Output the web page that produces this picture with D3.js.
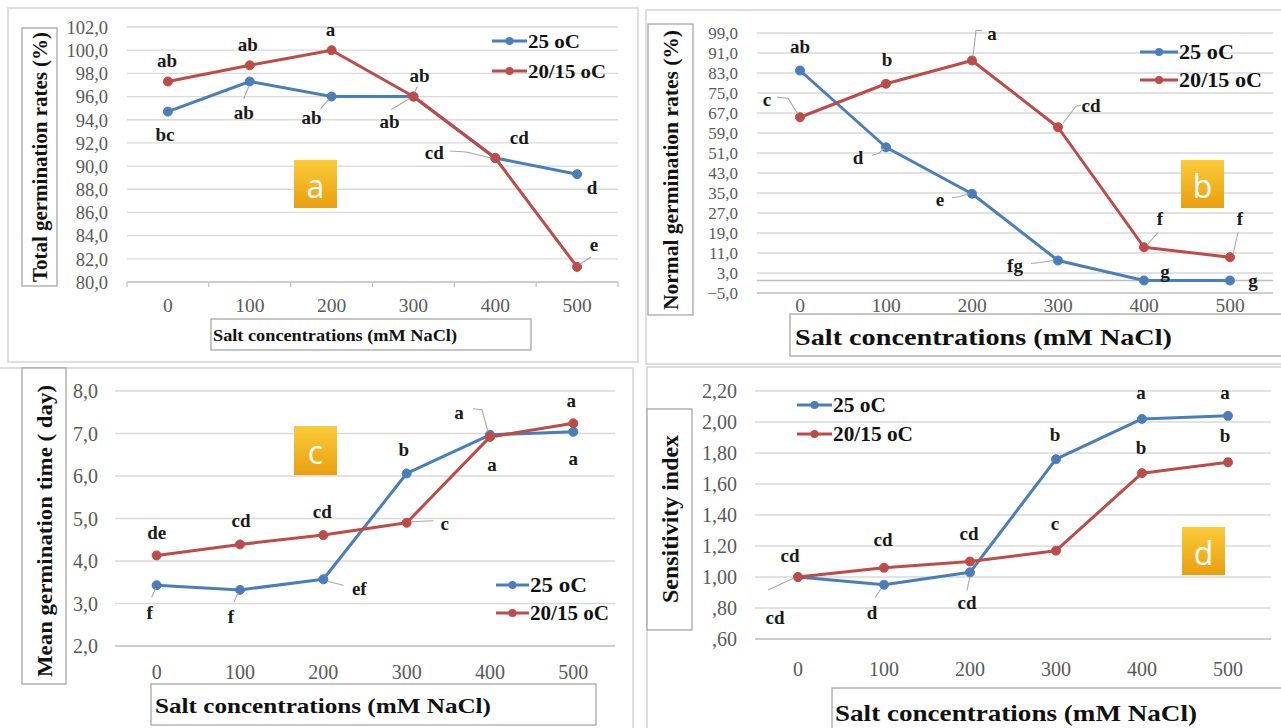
<!DOCTYPE html>
<html><head><meta charset="utf-8">
<script src="https://cdn.jsdelivr.net/npm/d3@7"></script>
<style>html,body{margin:0;padding:0;background:#fff;} svg{display:block}</style>
</head><body>
<svg id="chart" width="1281" height="728"></svg>
<script>
// ---------------- DATA ----------------
const categories = ["0", "100", "200", "300", "400", "500"];
const seriesNames = ["25 oC", "20/15 oC"];

// (a) Total germination rates (%)
const totalTicks = [80, 82, 84, 86, 88, 90, 92, 94, 96, 98, 100, 102];
const total25 = [94.7, 97.3, 96.0, 96.0, 90.7, 89.3];
const total2015 = [97.3, 98.7, 100.0, 96.0, 90.7, 81.3];
const totalLetters25 = ["bc", "ab", "ab", "ab", "cd", "d"];
const totalLetters2015 = ["ab", "ab", "a", "ab", "cd", "e"];

// (b) Normal germination rates (%)
const normalTicks = [-5, 3, 11, 19, 27, 35, 43, 51, 59, 67, 75, 83, 91, 99];
const normal25 = [84.0, 53.3, 34.7, 8.0, 0.0, 0.0];
const normal2015 = [65.3, 78.7, 88.0, 61.3, 13.3, 9.3];
const normalLetters25 = ["ab", "d", "e", "fg", "g", "g"];
const normalLetters2015 = ["c", "b", "a", "cd", "f", "f"];

// (c) Mean germination time (day)
const mgtTicks = [2, 3, 4, 5, 6, 7, 8];
const mgt25 = [3.43, 3.32, 3.57, 6.06, 6.97, 7.04];
const mgt2015 = [4.13, 4.39, 4.61, 4.90, 6.92, 7.24];
const mgtLetters25 = ["f", "f", "ef", "b", "a", "a"];
const mgtLetters2015 = ["de", "cd", "cd", "c", "a", "a"];

// (d) Sensitivity index
const siTicks = [0.6, 0.8, 1.0, 1.2, 1.4, 1.6, 1.8, 2.0, 2.2];
const si25 = [1.00, 0.95, 1.03, 1.76, 2.02, 2.04];
const si2015 = [1.00, 1.06, 1.10, 1.17, 1.67, 1.74];
const siLetters25 = ["cd", "d", "cd", "b", "a", "a"];
const siLetters2015 = ["cd", "cd", "cd", "c", "b", "b"];

const xTitle = "Salt concentrations (mM NaCl)";

// ---------------- STYLE / LAYOUT ----------------
const SERIF = "'Liberation Serif','Times New Roman','DejaVu Serif',serif";
const SANS = "'Open Sans','Noto Sans',sans-serif";
const BLUE = "#4A7EBB", RED = "#BE4B48";
const fmt1 = v => d3.format(".1f")(v).replace(".", ",");
const fmt2 = v => d3.format(".2f")(v).replace(".", ",").replace(/^0,/, ",");

const panels = [
  {
    frame: [8, 8, 638, 362], xRange: [127, 618], yRange: [282, 27], domain: [80, 102],
    ticks: totalTicks, fmt: fmt1, yLabelRight: 108, yTickSize: 18.5, xTickY: 305, xTickSize: 19.5,
    s: [total25, total2015], letters: [totalLetters25, totalLetters2015],
    off: [
      [[-3, 23], [-6, 31, [[-6, 17], [-1, 5]]], [-20, 21, [[-11, 12], [-3, 3]]], [-24, 25, [[-22, 13], [-4, 2]]], [-61, -5, [[-45, -7], [-29, -6], [-4, 0]]], [15, 13]],
      [[-1, -21], [-2, -21], [-1, -21], [6, -21, [[4, -10], [1, -4]]], [24, -20], [17, -22, [[3, -3], [14, -10]]]]
    ],
    yTitle: { text: "Total germination rates (%)", box: [22, 28, 57, 286], cx: 40, cy: 157, size: 20, len: 250 },
    xTitleBox: { box: [211, 319, 531, 350], x: 213, y: 335, size: 16, len: 244 },
    legend: { x: 492, y: [41, 71], len: 35, size: 19, tl: [52, 78] },
    badge: { box: [294, 160, 337, 208], text: "a" },
    bottomTicks: true
  },
  {
    frame: [646, 10, 1292, 364], xRange: [757, 1273], yRange: [293, 33], domain: [-5, 99],
    ticks: normalTicks, fmt: fmt1, yLabelRight: 738, yTickSize: 17, xTickY: 305, xTickSize: 19.5,
    s: [normal25, normal2015], letters: [normalLetters25, normalLetters2015],
    off: [
      [[0, -24], [-28, 10, [[-14, 8], [-7, 6], [-2, 1]]], [-32, 6, [[-20, 4], [-13, 3], [-3, 0]]], [-43, 4.5, [[-27, 3], [-18, 2], [-4, 0]]], [21, -9], [23, 0]],
      [[-33, -18, [[-23, -20], [-12, -19], [-2, -3]]], [1, -24], [20, -27, [[10, -30], [4, -30], [1, -4]]], [33, -22, [[23, -22], [18, -21], [5, -4]]], [16, -29, [[14, -15], [3, -2]]], [10, -39, [[8, -25], [3, -3]]]]
    ],
    yTitle: { text: "Normal germination rates (%)", box: [648, 24, 693, 315], cx: 671, cy: 170, size: 21, len: 280 },
    xTitleBox: { box: [790, 314, 1295, 356], x: 795, y: 337, size: 24, len: 377 },
    legend: { x: 1140, y: [52, 80], len: 38, size: 20, tl: [55, 83] },
    badge: { box: [1181, 160, 1224, 208], text: "b" },
    zeroLine: true
  },
  {
    frame: [-2, 368, 633, 740], xRange: [115, 615], yRange: [646, 391], domain: [2, 8],
    ticks: mgtTicks, fmt: fmt1, yLabelRight: 98, yTickSize: 20, xTickY: 672, xTickSize: 20,
    s: [mgt25, mgt2015], letters: [mgtLetters25, mgtLetters2015],
    off: [
      [[-7, 27, [[-5, 12], [-1, 3]]], [-9, 27, [[-6, 12], [-2, 3]]], [36, 9, [[4, 2], [20, 6]]], [-3, -24], [-31, -22, [[-17, -26], [-8, -25], [-2, -3]]], [0, 27]],
      [[0, -23], [1, -24], [-1, -24], [38, 1, [[4, -1], [27, -2]]], [2, 28], [-2, -23]]
    ],
    yTitle: { text: "Mean germination time ( day)", box: [22, 368, 66, 684], cx: 44, cy: 531, size: 22, len: 292 },
    xTitleBox: { box: [151, 684, 596, 725], x: 155, y: 705, size: 22, len: 336 },
    legend: { x: 496, y: [585, 613], len: 33, size: 20, tl: [57, 79] },
    badge: { box: [294, 426, 337, 475], text: "c" }
  },
  {
    frame: [647, 367, 1292, 740], xRange: [755, 1271], yRange: [639, 391], domain: [0.6, 2.2],
    ticks: siTicks, fmt: fmt2, yLabelRight: 737, yTickSize: 20, xTickY: 669, xTickSize: 20,
    s: [si25, si2015], letters: [siLetters25, siLetters2015],
    off: [
      [[-23, 40, [[-30, 13], [-4, 1]]], [-12, 28, [[-9, 13], [-3, 4]]], [-3, 30, [[-3, 18], [0, 4]]], [-1, -25], [-1, -26], [-3, -23]],
      [[-8, -22], [-1, -28], [-1, -28.5], [-1, -27], [-1, -26], [-3, -27]]
    ],
    yTitle: { text: "Sensitivity index", box: [647, 409, 692, 630], cx: 670, cy: 519, size: 23, len: 168 },
    xTitleBox: { box: [832, 688, 1295, 745], x: 835, y: 713, size: 23, len: 362 },
    legend: { x: 797, y: [405, 434], len: 35, size: 20, tl: [53, 80] },
    badge: { box: [1182, 527, 1225, 575], text: "d" }
  }
];

// ---------------- DRAW ----------------
const svg = d3.select("#chart");
const defs = svg.append("defs");
const grad = defs.append("linearGradient").attr("id", "gold")
  .attr("x1", 0).attr("y1", 0).attr("x2", 0).attr("y2", 1);
grad.append("stop").attr("offset", "0%").attr("stop-color", "#FBCB3A");
grad.append("stop").attr("offset", "100%").attr("stop-color", "#E99F0E");

const colors = [BLUE, RED];

function drawPanel(p) {
  const g = svg.append("g");
  const [fx0, fy0, fx1, fy1] = p.frame;
  g.append("rect").attr("x", fx0).attr("y", fy0).attr("width", fx1 - fx0).attr("height", fy1 - fy0)
    .attr("fill", "#fff").attr("stroke", "#d4d4d4").attr("stroke-width", 1.5);

  const x = d3.scaleBand().domain(categories).range(p.xRange);
  const y = d3.scaleLinear().domain(p.domain).range(p.yRange);
  const cx = c => x(c) + x.bandwidth() / 2;

  // gridlines
  g.append("g").selectAll("line").data(p.ticks).join("line")
    .attr("x1", p.xRange[0]).attr("x2", p.xRange[1])
    .attr("y1", d => y(d)).attr("y2", d => y(d))
    .attr("stroke", d => d === p.domain[0] ? "#bdbdbd" : "#d9d9d9")
    .attr("stroke-width", 1.3);
  if (p.zeroLine) {
    g.append("line").attr("x1", p.xRange[0]).attr("x2", p.xRange[1])
      .attr("y1", y(0)).attr("y2", y(0)).attr("stroke", "#bdbdbd").attr("stroke-width", 1.3);
  }
  if (p.bottomTicks) {
    const bounds = categories.map(c => x(c)).concat([p.xRange[1]]);
    g.append("g").selectAll("line").data(bounds).join("line")
      .attr("x1", d => d).attr("x2", d => d)
      .attr("y1", y(p.domain[0])).attr("y2", y(p.domain[0]) + 5)
      .attr("stroke", "#bdbdbd").attr("stroke-width", 1.2);
  }

  // y tick labels
  const ya = g.append("g").attr("transform", `translate(${p.yLabelRight},0)`)
    .call(d3.axisLeft(y).tickValues(p.ticks).tickFormat(p.fmt).tickSize(0).tickPadding(0));
  ya.attr("font-family", SERIF);
  ya.select(".domain").remove();
  ya.selectAll("text").attr("font-family", SERIF).attr("font-size", p.yTickSize)
    .attr("fill", "#595959").attr("dy", "0.34em");

  // x tick labels
  const xa = g.append("g").attr("transform", `translate(0,${p.xTickY})`)
    .call(d3.axisBottom(x).tickSize(0).tickPadding(0));
  xa.attr("font-family", SERIF);
  xa.select(".domain").remove();
  xa.selectAll("text").attr("font-family", SERIF).attr("font-size", p.xTickSize)
    .attr("fill", "#595959").attr("dy", "0.34em");

  // series lines + markers
  p.s.forEach((vals, si) => {
    const line = d3.line().x((d, i) => cx(categories[i])).y(d => y(d));
    g.append("path").datum(vals).attr("d", line).attr("fill", "none")
      .attr("stroke", colors[si]).attr("stroke-width", 3).attr("stroke-linejoin", "round");
    g.append("g").selectAll("circle").data(vals).join("circle")
      .attr("cx", (d, i) => cx(categories[i])).attr("cy", d => y(d)).attr("r", 4.5)
      .attr("fill", colors[si]).attr("stroke", colors[si]).attr("stroke-width", 1);
  });

  // letters + leaders
  p.s.forEach((vals, si) => {
    vals.forEach((v, i) => {
      const px = cx(categories[i]), py = y(v);
      const o = p.off[si][i];
      if (o[2]) {
        g.append("polyline")
          .attr("points", o[2].map(q => `${px + q[0]},${py + q[1]}`).join(" "))
          .attr("fill", "none").attr("stroke", "#a6a6a6").attr("stroke-width", 1.1);
      }
      g.append("text").attr("x", px + o[0]).attr("y", py + o[1])
        .attr("text-anchor", "middle").attr("dominant-baseline", "central")
        .attr("font-family", SERIF).attr("font-weight", "bold").attr("font-size", 19)
        .attr("fill", "#1a1a1a").text(p.letters[si][i]);
    });
  });

  // y title
  const yt = p.yTitle;
  g.append("rect").attr("x", yt.box[0]).attr("y", yt.box[1])
    .attr("width", yt.box[2] - yt.box[0]).attr("height", yt.box[3] - yt.box[1])
    .attr("fill", "#fff").attr("stroke", "#9e9e9e").attr("stroke-width", 1.2);
  g.append("text").attr("transform", `translate(${yt.cx},${yt.cy}) rotate(-90)`)
    .attr("text-anchor", "middle").attr("dominant-baseline", "central")
    .attr("font-family", SERIF).attr("font-weight", "bold").attr("font-size", yt.size)
    .attr("textLength", yt.len).attr("lengthAdjust", "spacingAndGlyphs")
    .attr("fill", "#111").text(yt.text);

  // x title
  const xt = p.xTitleBox;
  g.append("rect").attr("x", xt.box[0]).attr("y", xt.box[1])
    .attr("width", xt.box[2] - xt.box[0]).attr("height", xt.box[3] - xt.box[1])
    .attr("fill", "#fff").attr("stroke", "#9e9e9e").attr("stroke-width", 1.2);
  g.append("text").attr("x", xt.x).attr("y", xt.y).attr("dominant-baseline", "central")
    .attr("font-family", SERIF).attr("font-weight", "bold").attr("font-size", xt.size)
    .attr("textLength", xt.len).attr("lengthAdjust", "spacingAndGlyphs")
    .attr("fill", "#111").text(xTitle);

  // legend
  const lg = p.legend;
  seriesNames.forEach((name, si) => {
    const ly = lg.y[si];
    g.append("line").attr("x1", lg.x).attr("x2", lg.x + lg.len).attr("y1", ly).attr("y2", ly)
      .attr("stroke", colors[si]).attr("stroke-width", 3);
    g.append("circle").attr("cx", lg.x + lg.len / 2).attr("cy", ly).attr("r", 4).attr("fill", colors[si]);
    g.append("text").attr("x", lg.x + lg.len + 1).attr("y", ly).attr("dominant-baseline", "central")
      .attr("font-family", SERIF).attr("font-weight", "bold").attr("font-size", lg.size)
      .attr("textLength", lg.tl[si]).attr("lengthAdjust", "spacingAndGlyphs")
      .attr("fill", "#111").text(name);
  });

  // badge
  const b = p.badge.box;
  g.append("rect").attr("x", b[0]).attr("y", b[1]).attr("width", b[2] - b[0]).attr("height", b[3] - b[1])
    .attr("fill", "url(#gold)");
  g.append("text").attr("x", (b[0] + b[2]) / 2).attr("y", (b[1] + b[3]) / 2 + 1)
    .attr("text-anchor", "middle").attr("dominant-baseline", "central")
    .attr("font-family", SANS).attr("font-size", 32).attr("fill", "#fff").text(p.badge.text);
}

panels.forEach(drawPanel);
</script>
</body></html>
